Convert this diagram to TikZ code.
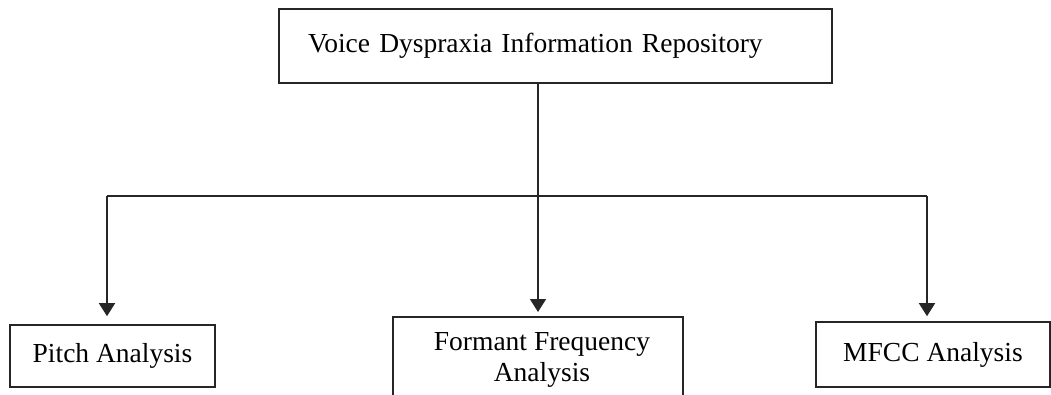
\documentclass[tikz,border=0pt]{standalone}
\usepackage{fontspec}
\setmainfont{Liberation Serif}
\usetikzlibrary{arrows.meta}
\tikzset{
  box/.style={draw=black!85, line width=1.6pt, rectangle, inner sep=0pt,
    font=\fontsize{27.5}{31}\selectfont, align=center},
  link/.style={draw=black!85, line width=1.6pt},
  arrowlink/.style={link, -{Triangle[width=16pt,length=13pt]}}
}
\begin{document}
\begin{tikzpicture}[x=1pt,y=-1pt]
  \useasboundingbox (0,0) rectangle (1051,394);

  % root box
  \node[box, minimum width=553pt, minimum height=74pt, text width=495pt,
        inner xsep=29pt, align=left] (repo) at (555.5,46)
        {Voice Dyspraxia Information Repository};

  % analysis boxes
  \node[box, minimum width=205pt, minimum height=62pt] (pitch) at (112.5,356)
        {\raisebox{3pt}{Pitch Analysis}};
  \node[box, minimum width=290pt, minimum height=96pt, anchor=north] (formant) at (538,316)
        {};
  \node[font=\fontsize{27.5}{31}\selectfont, align=center, inner sep=0pt] (formanttext) at (542,359.5)
        {Formant Frequency\\Analysis};
  \node[box, minimum width=234pt, minimum height=65pt] (mfcc) at (933,354.5)
        {\raisebox{3pt}{MFCC Analysis}};

  % branch points on the distribution bar
  \coordinate (jl) at (107,196);
  \coordinate (jr) at (927,196);

  % connectors
  \draw[arrowlink, shorten >=4pt] (repo.south -| formant.north) -- (formant.north);
  \draw[link] (jl) -- (jr);
  \draw[arrowlink, shorten >=8pt] (jl) -- (jl |- pitch.north);
  \draw[arrowlink, shorten >=5pt] (jr) -- (jr |- mfcc.north);
\end{tikzpicture}
\end{document}
